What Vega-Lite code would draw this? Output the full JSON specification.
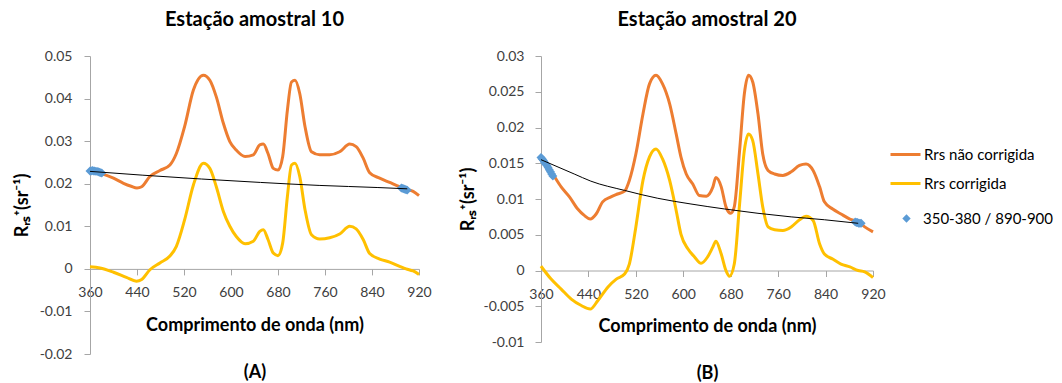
{
  "$schema": "https://vega.github.io/schema/vega-lite/v6.json",
  "padding": {"left": 13, "top": 10, "right": 0, "bottom": 0},
  "config": {
    "font": "Lato",
    "view": {"stroke": null},
    "axis": {"grid": false, "domainColor": "#A6A6A6", "tickColor": "#A6A6A6", "tickSize": 6, "labelFont": "Lato", "labelFontSize": 14, "labelColor": "#404040", "titleFont": "Lato", "titleFontSize": 18, "titleFontWeight": "bold", "titleColor": "#000000", "labelFlush": false, "labelOverlap": false},
    "legend": {"labelFont": "Lato", "labelFontSize": 15, "labelColor": "#000000"}
  },
  "datasets": {
    "linesA": [
      {"series": "Rrs não corrigida", "nm": 360, "v": 0.0231},
      {"series": "Rrs não corrigida", "nm": 377, "v": 0.0225},
      {"series": "Rrs não corrigida", "nm": 400, "v": 0.0213},
      {"series": "Rrs não corrigida", "nm": 417, "v": 0.0201},
      {"series": "Rrs não corrigida", "nm": 430, "v": 0.0194},
      {"series": "Rrs não corrigida", "nm": 440, "v": 0.0190},
      {"series": "Rrs não corrigida", "nm": 448, "v": 0.0193},
      {"series": "Rrs não corrigida", "nm": 462, "v": 0.0217},
      {"series": "Rrs não corrigida", "nm": 479, "v": 0.0231},
      {"series": "Rrs não corrigida", "nm": 496, "v": 0.0244},
      {"series": "Rrs não corrigida", "nm": 507, "v": 0.0271},
      {"series": "Rrs não corrigida", "nm": 521, "v": 0.0334},
      {"series": "Rrs não corrigida", "nm": 536, "v": 0.0420},
      {"series": "Rrs não corrigida", "nm": 553, "v": 0.0455},
      {"series": "Rrs não corrigida", "nm": 564, "v": 0.0443},
      {"series": "Rrs não corrigida", "nm": 575, "v": 0.0404},
      {"series": "Rrs não corrigida", "nm": 587, "v": 0.0342},
      {"series": "Rrs não corrigida", "nm": 598, "v": 0.0299},
      {"series": "Rrs não corrigida", "nm": 609, "v": 0.0279},
      {"series": "Rrs não corrigida", "nm": 624, "v": 0.0264},
      {"series": "Rrs não corrigida", "nm": 638, "v": 0.0268},
      {"series": "Rrs não corrigida", "nm": 649, "v": 0.0291},
      {"series": "Rrs não corrigida", "nm": 655, "v": 0.0293},
      {"series": "Rrs não corrigida", "nm": 663, "v": 0.0271},
      {"series": "Rrs não corrigida", "nm": 672, "v": 0.0236},
      {"series": "Rrs não corrigida", "nm": 680, "v": 0.0232},
      {"series": "Rrs não corrigida", "nm": 688, "v": 0.0264},
      {"series": "Rrs não corrigida", "nm": 696, "v": 0.0373},
      {"series": "Rrs não corrigida", "nm": 703, "v": 0.0439},
      {"series": "Rrs não corrigida", "nm": 709, "v": 0.0443},
      {"series": "Rrs não corrigida", "nm": 717, "v": 0.0412},
      {"series": "Rrs não corrigida", "nm": 726, "v": 0.0334},
      {"series": "Rrs não corrigida", "nm": 737, "v": 0.0275},
      {"series": "Rrs não corrigida", "nm": 751, "v": 0.0268},
      {"series": "Rrs não corrigida", "nm": 768, "v": 0.0268},
      {"series": "Rrs não corrigida", "nm": 785, "v": 0.0275},
      {"series": "Rrs não corrigida", "nm": 802, "v": 0.0293},
      {"series": "Rrs não corrigida", "nm": 813, "v": 0.0287},
      {"series": "Rrs não corrigida", "nm": 825, "v": 0.0260},
      {"series": "Rrs não corrigida", "nm": 836, "v": 0.0226},
      {"series": "Rrs não corrigida", "nm": 853, "v": 0.0213},
      {"series": "Rrs não corrigida", "nm": 870, "v": 0.0203},
      {"series": "Rrs não corrigida", "nm": 887, "v": 0.0193},
      {"series": "Rrs não corrigida", "nm": 898, "v": 0.0187},
      {"series": "Rrs não corrigida", "nm": 910, "v": 0.0182},
      {"series": "Rrs não corrigida", "nm": 920, "v": 0.0172},
      {"series": "Rrs corrigida", "nm": 360, "v": 0.0005},
      {"series": "Rrs corrigida", "nm": 377, "v": 0.0002},
      {"series": "Rrs corrigida", "nm": 400, "v": -0.0008},
      {"series": "Rrs corrigida", "nm": 422, "v": -0.0020},
      {"series": "Rrs corrigida", "nm": 439, "v": -0.0029},
      {"series": "Rrs corrigida", "nm": 448, "v": -0.0025},
      {"series": "Rrs corrigida", "nm": 462, "v": -0.0002},
      {"series": "Rrs corrigida", "nm": 479, "v": 0.0014},
      {"series": "Rrs corrigida", "nm": 496, "v": 0.0030},
      {"series": "Rrs corrigida", "nm": 507, "v": 0.0053},
      {"series": "Rrs corrigida", "nm": 521, "v": 0.0115},
      {"series": "Rrs corrigida", "nm": 536, "v": 0.0197},
      {"series": "Rrs corrigida", "nm": 553, "v": 0.0248},
      {"series": "Rrs corrigida", "nm": 564, "v": 0.0236},
      {"series": "Rrs corrigida", "nm": 575, "v": 0.0193},
      {"series": "Rrs corrigida", "nm": 587, "v": 0.0135},
      {"series": "Rrs corrigida", "nm": 598, "v": 0.0100},
      {"series": "Rrs corrigida", "nm": 609, "v": 0.0076},
      {"series": "Rrs corrigida", "nm": 624, "v": 0.0059},
      {"series": "Rrs corrigida", "nm": 638, "v": 0.0065},
      {"series": "Rrs corrigida", "nm": 649, "v": 0.0088},
      {"series": "Rrs corrigida", "nm": 655, "v": 0.0092},
      {"series": "Rrs corrigida", "nm": 663, "v": 0.0069},
      {"series": "Rrs corrigida", "nm": 672, "v": 0.0037},
      {"series": "Rrs corrigida", "nm": 680, "v": 0.0031},
      {"series": "Rrs corrigida", "nm": 688, "v": 0.0061},
      {"series": "Rrs corrigida", "nm": 696, "v": 0.0170},
      {"series": "Rrs corrigida", "nm": 703, "v": 0.0244},
      {"series": "Rrs corrigida", "nm": 709, "v": 0.0248},
      {"series": "Rrs corrigida", "nm": 717, "v": 0.0217},
      {"series": "Rrs corrigida", "nm": 726, "v": 0.0139},
      {"series": "Rrs corrigida", "nm": 737, "v": 0.0080},
      {"series": "Rrs corrigida", "nm": 751, "v": 0.0070},
      {"series": "Rrs corrigida", "nm": 768, "v": 0.0073},
      {"series": "Rrs corrigida", "nm": 785, "v": 0.0082},
      {"series": "Rrs corrigida", "nm": 802, "v": 0.0100},
      {"series": "Rrs corrigida", "nm": 813, "v": 0.0094},
      {"series": "Rrs corrigida", "nm": 825, "v": 0.0069},
      {"series": "Rrs corrigida", "nm": 836, "v": 0.0036},
      {"series": "Rrs corrigida", "nm": 853, "v": 0.0023},
      {"series": "Rrs corrigida", "nm": 870, "v": 0.0016},
      {"series": "Rrs corrigida", "nm": 887, "v": 0.0006},
      {"series": "Rrs corrigida", "nm": 898, "v": 0.0000},
      {"series": "Rrs corrigida", "nm": 910, "v": -0.0005},
      {"series": "Rrs corrigida", "nm": 920, "v": -0.0013}
    ],
    "fitA": [
      {"nm": 360, "v": 0.0229},
      {"nm": 450, "v": 0.0220},
      {"nm": 550, "v": 0.0211},
      {"nm": 650, "v": 0.0203},
      {"nm": 750, "v": 0.0196},
      {"nm": 850, "v": 0.0191},
      {"nm": 900, "v": 0.0188}
    ],
    "ptsA": [
      {"pts": "350-380 / 890-900", "nm": 360, "v": 0.0230},
      {"pts": "350-380 / 890-900", "nm": 362, "v": 0.0230},
      {"pts": "350-380 / 890-900", "nm": 364, "v": 0.0231},
      {"pts": "350-380 / 890-900", "nm": 366, "v": 0.0230},
      {"pts": "350-380 / 890-900", "nm": 368, "v": 0.0230},
      {"pts": "350-380 / 890-900", "nm": 370, "v": 0.0229},
      {"pts": "350-380 / 890-900", "nm": 372, "v": 0.0229},
      {"pts": "350-380 / 890-900", "nm": 374, "v": 0.0228},
      {"pts": "350-380 / 890-900", "nm": 376, "v": 0.0227},
      {"pts": "350-380 / 890-900", "nm": 378, "v": 0.0226},
      {"pts": "350-380 / 890-900", "nm": 380, "v": 0.0225},
      {"pts": "350-380 / 890-900", "nm": 890, "v": 0.0190},
      {"pts": "350-380 / 890-900", "nm": 892, "v": 0.0189},
      {"pts": "350-380 / 890-900", "nm": 894, "v": 0.0188},
      {"pts": "350-380 / 890-900", "nm": 896, "v": 0.0187},
      {"pts": "350-380 / 890-900", "nm": 898, "v": 0.0186},
      {"pts": "350-380 / 890-900", "nm": 900, "v": 0.0185}
    ],
    "linesB": [
      {"series": "Rrs não corrigida", "nm": 360, "v": 0.0160},
      {"series": "Rrs não corrigida", "nm": 371, "v": 0.0147},
      {"series": "Rrs não corrigida", "nm": 383, "v": 0.0131},
      {"series": "Rrs não corrigida", "nm": 394, "v": 0.0117},
      {"series": "Rrs não corrigida", "nm": 408, "v": 0.0103},
      {"series": "Rrs não corrigida", "nm": 422, "v": 0.0086},
      {"series": "Rrs não corrigida", "nm": 433, "v": 0.0077},
      {"series": "Rrs não corrigida", "nm": 443, "v": 0.0072},
      {"series": "Rrs não corrigida", "nm": 453, "v": 0.0079},
      {"series": "Rrs não corrigida", "nm": 464, "v": 0.0096},
      {"series": "Rrs não corrigida", "nm": 478, "v": 0.0103},
      {"series": "Rrs não corrigida", "nm": 489, "v": 0.0107},
      {"series": "Rrs não corrigida", "nm": 501, "v": 0.0111},
      {"series": "Rrs não corrigida", "nm": 509, "v": 0.0126},
      {"series": "Rrs não corrigida", "nm": 520, "v": 0.0163},
      {"series": "Rrs não corrigida", "nm": 532, "v": 0.0219},
      {"series": "Rrs não corrigida", "nm": 543, "v": 0.0261},
      {"series": "Rrs não corrigida", "nm": 554, "v": 0.0273},
      {"series": "Rrs não corrigida", "nm": 565, "v": 0.0261},
      {"series": "Rrs não corrigida", "nm": 577, "v": 0.0233},
      {"series": "Rrs não corrigida", "nm": 588, "v": 0.0191},
      {"series": "Rrs não corrigida", "nm": 596, "v": 0.0159},
      {"series": "Rrs não corrigida", "nm": 605, "v": 0.0135},
      {"series": "Rrs não corrigida", "nm": 616, "v": 0.0121},
      {"series": "Rrs não corrigida", "nm": 627, "v": 0.0105},
      {"series": "Rrs não corrigida", "nm": 639, "v": 0.0104},
      {"series": "Rrs não corrigida", "nm": 650, "v": 0.0117},
      {"series": "Rrs não corrigida", "nm": 655, "v": 0.0130},
      {"series": "Rrs não corrigida", "nm": 664, "v": 0.0117},
      {"series": "Rrs não corrigida", "nm": 672, "v": 0.0089},
      {"series": "Rrs não corrigida", "nm": 680, "v": 0.0080},
      {"series": "Rrs não corrigida", "nm": 686, "v": 0.0089},
      {"series": "Rrs não corrigida", "nm": 695, "v": 0.0168},
      {"series": "Rrs não corrigida", "nm": 703, "v": 0.0247},
      {"series": "Rrs não corrigida", "nm": 710, "v": 0.0273},
      {"series": "Rrs não corrigida", "nm": 717, "v": 0.0264},
      {"series": "Rrs não corrigida", "nm": 726, "v": 0.0219},
      {"series": "Rrs não corrigida", "nm": 734, "v": 0.0163},
      {"series": "Rrs não corrigida", "nm": 743, "v": 0.0140},
      {"series": "Rrs não corrigida", "nm": 754, "v": 0.0135},
      {"series": "Rrs não corrigida", "nm": 768, "v": 0.0133},
      {"series": "Rrs não corrigida", "nm": 782, "v": 0.0138},
      {"series": "Rrs não corrigida", "nm": 796, "v": 0.0147},
      {"series": "Rrs não corrigida", "nm": 807, "v": 0.0149},
      {"series": "Rrs não corrigida", "nm": 819, "v": 0.0140},
      {"series": "Rrs não corrigida", "nm": 830, "v": 0.0117},
      {"series": "Rrs não corrigida", "nm": 838, "v": 0.0096},
      {"series": "Rrs não corrigida", "nm": 852, "v": 0.0086},
      {"series": "Rrs não corrigida", "nm": 866, "v": 0.0079},
      {"series": "Rrs não corrigida", "nm": 881, "v": 0.0072},
      {"series": "Rrs não corrigida", "nm": 895, "v": 0.0068},
      {"series": "Rrs não corrigida", "nm": 906, "v": 0.0061},
      {"series": "Rrs não corrigida", "nm": 920, "v": 0.0054},
      {"series": "Rrs corrigida", "nm": 360, "v": 0.0006},
      {"series": "Rrs corrigida", "nm": 377, "v": -0.0012},
      {"series": "Rrs corrigida", "nm": 394, "v": -0.0026},
      {"series": "Rrs corrigida", "nm": 411, "v": -0.0040},
      {"series": "Rrs corrigida", "nm": 428, "v": -0.0049},
      {"series": "Rrs corrigida", "nm": 443, "v": -0.0054},
      {"series": "Rrs corrigida", "nm": 456, "v": -0.0042},
      {"series": "Rrs corrigida", "nm": 473, "v": -0.0023},
      {"series": "Rrs corrigida", "nm": 487, "v": -0.0012},
      {"series": "Rrs corrigida", "nm": 501, "v": -0.0005},
      {"series": "Rrs corrigida", "nm": 509, "v": 0.0009},
      {"series": "Rrs corrigida", "nm": 520, "v": 0.0061},
      {"series": "Rrs corrigida", "nm": 532, "v": 0.0126},
      {"series": "Rrs corrigida", "nm": 543, "v": 0.0159},
      {"series": "Rrs corrigida", "nm": 554, "v": 0.0170},
      {"series": "Rrs corrigida", "nm": 565, "v": 0.0156},
      {"series": "Rrs corrigida", "nm": 577, "v": 0.0126},
      {"series": "Rrs corrigida", "nm": 588, "v": 0.0084},
      {"series": "Rrs corrigida", "nm": 596, "v": 0.0051},
      {"series": "Rrs corrigida", "nm": 608, "v": 0.0030},
      {"series": "Rrs corrigida", "nm": 619, "v": 0.0019},
      {"series": "Rrs corrigida", "nm": 630, "v": 0.0010},
      {"series": "Rrs corrigida", "nm": 641, "v": 0.0019},
      {"series": "Rrs corrigida", "nm": 650, "v": 0.0033},
      {"series": "Rrs corrigida", "nm": 655, "v": 0.0041},
      {"series": "Rrs corrigida", "nm": 664, "v": 0.0023},
      {"series": "Rrs corrigida", "nm": 672, "v": 0.0000},
      {"series": "Rrs corrigida", "nm": 678, "v": -0.0008},
      {"series": "Rrs corrigida", "nm": 686, "v": 0.0009},
      {"series": "Rrs corrigida", "nm": 695, "v": 0.0093},
      {"series": "Rrs corrigida", "nm": 703, "v": 0.0168},
      {"series": "Rrs corrigida", "nm": 710, "v": 0.0191},
      {"series": "Rrs corrigida", "nm": 717, "v": 0.0182},
      {"series": "Rrs corrigida", "nm": 726, "v": 0.0135},
      {"series": "Rrs corrigida", "nm": 734, "v": 0.0089},
      {"series": "Rrs corrigida", "nm": 743, "v": 0.0061},
      {"series": "Rrs corrigida", "nm": 754, "v": 0.0057},
      {"series": "Rrs corrigida", "nm": 768, "v": 0.0056},
      {"series": "Rrs corrigida", "nm": 782, "v": 0.0061},
      {"series": "Rrs corrigida", "nm": 796, "v": 0.0071},
      {"series": "Rrs corrigida", "nm": 807, "v": 0.0076},
      {"series": "Rrs corrigida", "nm": 819, "v": 0.0070},
      {"series": "Rrs corrigida", "nm": 830, "v": 0.0037},
      {"series": "Rrs corrigida", "nm": 838, "v": 0.0023},
      {"series": "Rrs corrigida", "nm": 852, "v": 0.0016},
      {"series": "Rrs corrigida", "nm": 866, "v": 0.0009},
      {"series": "Rrs corrigida", "nm": 881, "v": 0.0005},
      {"series": "Rrs corrigida", "nm": 895, "v": 0.0000},
      {"series": "Rrs corrigida", "nm": 906, "v": -0.0002},
      {"series": "Rrs corrigida", "nm": 920, "v": -0.0010}
    ],
    "fitB": [
      {"nm": 360, "v": 0.0155},
      {"nm": 416, "v": 0.0135},
      {"nm": 444, "v": 0.0125},
      {"nm": 501, "v": 0.0112},
      {"nm": 557, "v": 0.0101},
      {"nm": 613, "v": 0.0093},
      {"nm": 670, "v": 0.0086},
      {"nm": 726, "v": 0.0080},
      {"nm": 782, "v": 0.0075},
      {"nm": 838, "v": 0.0071},
      {"nm": 895, "v": 0.0066}
    ],
    "ptsB": [
      {"pts": "350-380 / 890-900", "nm": 360, "v": 0.0158},
      {"pts": "350-380 / 890-900", "nm": 362, "v": 0.0156},
      {"pts": "350-380 / 890-900", "nm": 364, "v": 0.0154},
      {"pts": "350-380 / 890-900", "nm": 366, "v": 0.0151},
      {"pts": "350-380 / 890-900", "nm": 368, "v": 0.0149},
      {"pts": "350-380 / 890-900", "nm": 370, "v": 0.0147},
      {"pts": "350-380 / 890-900", "nm": 372, "v": 0.0144},
      {"pts": "350-380 / 890-900", "nm": 374, "v": 0.0141},
      {"pts": "350-380 / 890-900", "nm": 376, "v": 0.0138},
      {"pts": "350-380 / 890-900", "nm": 378, "v": 0.0135},
      {"pts": "350-380 / 890-900", "nm": 380, "v": 0.0132},
      {"pts": "350-380 / 890-900", "nm": 890, "v": 0.0068},
      {"pts": "350-380 / 890-900", "nm": 892, "v": 0.0067},
      {"pts": "350-380 / 890-900", "nm": 894, "v": 0.0067},
      {"pts": "350-380 / 890-900", "nm": 896, "v": 0.0066},
      {"pts": "350-380 / 890-900", "nm": 898, "v": 0.0066},
      {"pts": "350-380 / 890-900", "nm": 900, "v": 0.0066}
    ]
  },
  "spacing": 27,
  "resolve": {"scale": {"x": "independent", "y": "independent"}},
  "hconcat": [
    {
      "title": {"text": "Estação amostral 10", "font": "Lato", "fontSize": 20, "fontWeight": "bold", "color": "#000000", "offset": 19, "anchor": "middle"},
      "width": 329,
      "height": 298,
      "layer": [
        {
          "data": {"name": "linesA"},
          "mark": {"type": "line", "strokeWidth": 3, "interpolate": "monotone"},
          "encoding": {
            "x": {"field": "nm", "type": "quantitative", "scale": {"domain": [360, 920], "nice": false, "zero": false},
              "axis": {"values": [360, 440, 520, 600, 680, 760, 840, 920], "format": "d", "offset": -85.1, "labelPadding": 11, "titlePadding": 17, "titleLineHeight": 47, "labelOverlap": false, "title": ["Comprimento de onda (nm)", "(A)"]}},
            "y": {"field": "v", "type": "quantitative", "scale": {"domain": [-0.02, 0.05], "nice": false, "zero": false},
              "axis": {"values": [-0.02, -0.01, 0, 0.01, 0.02, 0.03, 0.04, 0.05], "tickCount": 8, "labelOverlap": false, "labelExpr": "toString(datum.value)", "labelPadding": 12, "titlePadding": 8, "title": "Rᵣₛ⁺(sr⁻¹)"}},
            "color": {"field": "series", "type": "nominal", "scale": {"domain": ["Rrs não corrigida", "Rrs corrigida"], "range": ["#ED7D31", "#FFC000"]},
              "legend": {"orient": "none", "legendX": 799, "legendY": 82, "title": null, "symbolType": "stroke", "symbolSize": 900, "symbolStrokeWidth": 3, "rowPadding": 4, "labelOffset": 2}}
          }
        },
        {
          "data": {"name": "ptsA"},
          "mark": {"type": "point", "shape": "diamond", "filled": true, "color": "#5B9BD5", "size": 80, "opacity": 1},
          "encoding": {
            "x": {"field": "nm", "type": "quantitative"},
            "y": {"field": "v", "type": "quantitative"},
            "shape": {"field": "pts", "type": "nominal", "scale": {"domain": ["350-380 / 890-900"], "range": ["diamond"]},
              "legend": {"orient": "none", "legendX": 809, "legendY": 155, "title": null, "symbolSize": 70, "symbolFillColor": "#5B9BD5", "symbolStrokeColor": "#5B9BD5", "labelOffset": 9}}
          }
        },
        {
          "data": {"name": "fitA"},
          "mark": {"type": "line", "color": "#000000", "strokeWidth": 1, "interpolate": "monotone"},
          "encoding": {
            "x": {"field": "nm", "type": "quantitative"},
            "y": {"field": "v", "type": "quantitative"}
          }
        }
      ]
    },
    {
      "title": {"text": "Estação amostral 20", "font": "Lato", "fontSize": 20, "fontWeight": "bold", "color": "#000000", "offset": 19, "anchor": "middle"},
      "width": 332,
      "height": 286,
      "layer": [
        {
          "data": {"name": "linesB"},
          "mark": {"type": "line", "strokeWidth": 3, "interpolate": "monotone"},
          "encoding": {
            "x": {"field": "nm", "type": "quantitative", "scale": {"domain": [360, 920], "nice": false, "zero": false},
              "axis": {"values": [360, 440, 520, 600, 680, 760, 840, 920], "format": "d", "offset": -71.5, "labelPadding": 11, "titlePadding": 16, "titleLineHeight": 47, "labelOverlap": false, "title": ["Comprimento de onda (nm)", "(B)"]}},
            "y": {"field": "v", "type": "quantitative", "scale": {"domain": [-0.01, 0.03], "nice": false, "zero": false},
              "axis": {"values": [-0.01, -0.005, 0, 0.005, 0.01, 0.015, 0.02, 0.025, 0.03], "tickCount": 9, "labelOverlap": false, "labelExpr": "toString(datum.value)", "labelPadding": 11, "titlePadding": 6, "title": "Rᵣₛ⁺(sr⁻¹)"}},
            "color": {"field": "series", "type": "nominal"}
          }
        },
        {
          "data": {"name": "ptsB"},
          "mark": {"type": "point", "shape": "diamond", "filled": true, "color": "#5B9BD5", "size": 80, "opacity": 1},
          "encoding": {
            "x": {"field": "nm", "type": "quantitative"},
            "y": {"field": "v", "type": "quantitative"},
            "shape": {"field": "pts", "type": "nominal"}
          }
        },
        {
          "data": {"name": "fitB"},
          "mark": {"type": "line", "color": "#000000", "strokeWidth": 1, "interpolate": "monotone"},
          "encoding": {
            "x": {"field": "nm", "type": "quantitative"},
            "y": {"field": "v", "type": "quantitative"}
          }
        }
      ]
    }
  ]
}
